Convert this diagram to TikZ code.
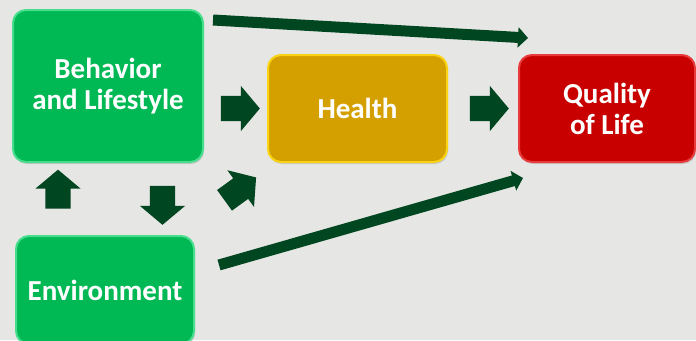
\documentclass[tikz,border=0pt]{standalone}
\usepackage{fontspec}
\setmainfont{Carlito}
\usetikzlibrary{shapes.arrows, arrows.meta, shadows}

\definecolor{bggray}{RGB}{230,230,228}
\definecolor{boxgreen}{RGB}{0,184,84}
\definecolor{rimgreen}{RGB}{70,222,140}
\definecolor{boxgold}{RGB}{212,160,0}
\definecolor{rimgold}{RGB}{250,212,20}
\definecolor{boxred}{RGB}{200,0,0}
\definecolor{rimred}{RGB}{232,60,60}
\definecolor{darkarrow}{RGB}{0,70,32}

\begin{document}
\begin{tikzpicture}[x=1pt, y=-1pt]
	\tikzstyle{every node} = [font=\bfseries\fontsize{29}{31}\selectfont, text=white, align=center, inner sep=0pt]
	\tikzstyle{box} = [rounded corners=13pt, line width=2pt, drop shadow={shadow xshift=1pt, shadow yshift=-2pt, opacity=.3}]
	\tikzstyle{blockarrow} = [single arrow, fill=darkarrow, inner xsep=0pt, inner ysep=12.5pt, minimum height=39pt, single arrow head extend=10pt, single arrow tip angle=100]
	\tikzstyle{longarrow} = [draw=darkarrow, line width=11pt, -{Triangle[length=10pt, width=20pt]}]
	\fill [bggray] (0,0) rectangle (696,340);
	\useasboundingbox (0,0) rectangle (696,340);
	\node [box, fill=boxgreen, draw=rimgreen, minimum width=190pt, minimum height=152pt] (Behavior) at (108,86) {Behavior\\and Lifestyle};
	\node [box, fill=boxgold, draw=rimgold, minimum width=179pt, minimum height=107pt] (Health) at (357.5,108.5) {Health};
	\node [box, fill=boxred, draw=rimred, minimum width=176pt, minimum height=107pt] (Quality) at (607,108.5) {Quality\\of Life};
	\node [box, fill=boxgreen, draw=rimgreen, minimum width=178pt, minimum height=108pt] (Environment) at (105,290) {Environment};
	\node [blockarrow] (BehToHealth) at (235,108.5) {};
	\node [blockarrow] (HealthToQual) at (484,108.5) {};
	\node [blockarrow, rotate=90] (EnvToBeh) at (58,194.5) {};
	\node [blockarrow, rotate=-90] (BehToEnv) at (162.5,200) {};
	\node [blockarrow, rotate=36] (EnvToHealth) at (236,192) {};
	\coordinate (TopStart) at (213,20);
	\coordinate (TopEnd) at (528,38);
	\coordinate (LowStart) at (219,265);
	\coordinate (LowEnd) at (523,178);
	\draw [longarrow] (TopStart)--(TopEnd);
	\draw [longarrow] (LowStart)--(LowEnd);
\end{tikzpicture}
\end{document}
